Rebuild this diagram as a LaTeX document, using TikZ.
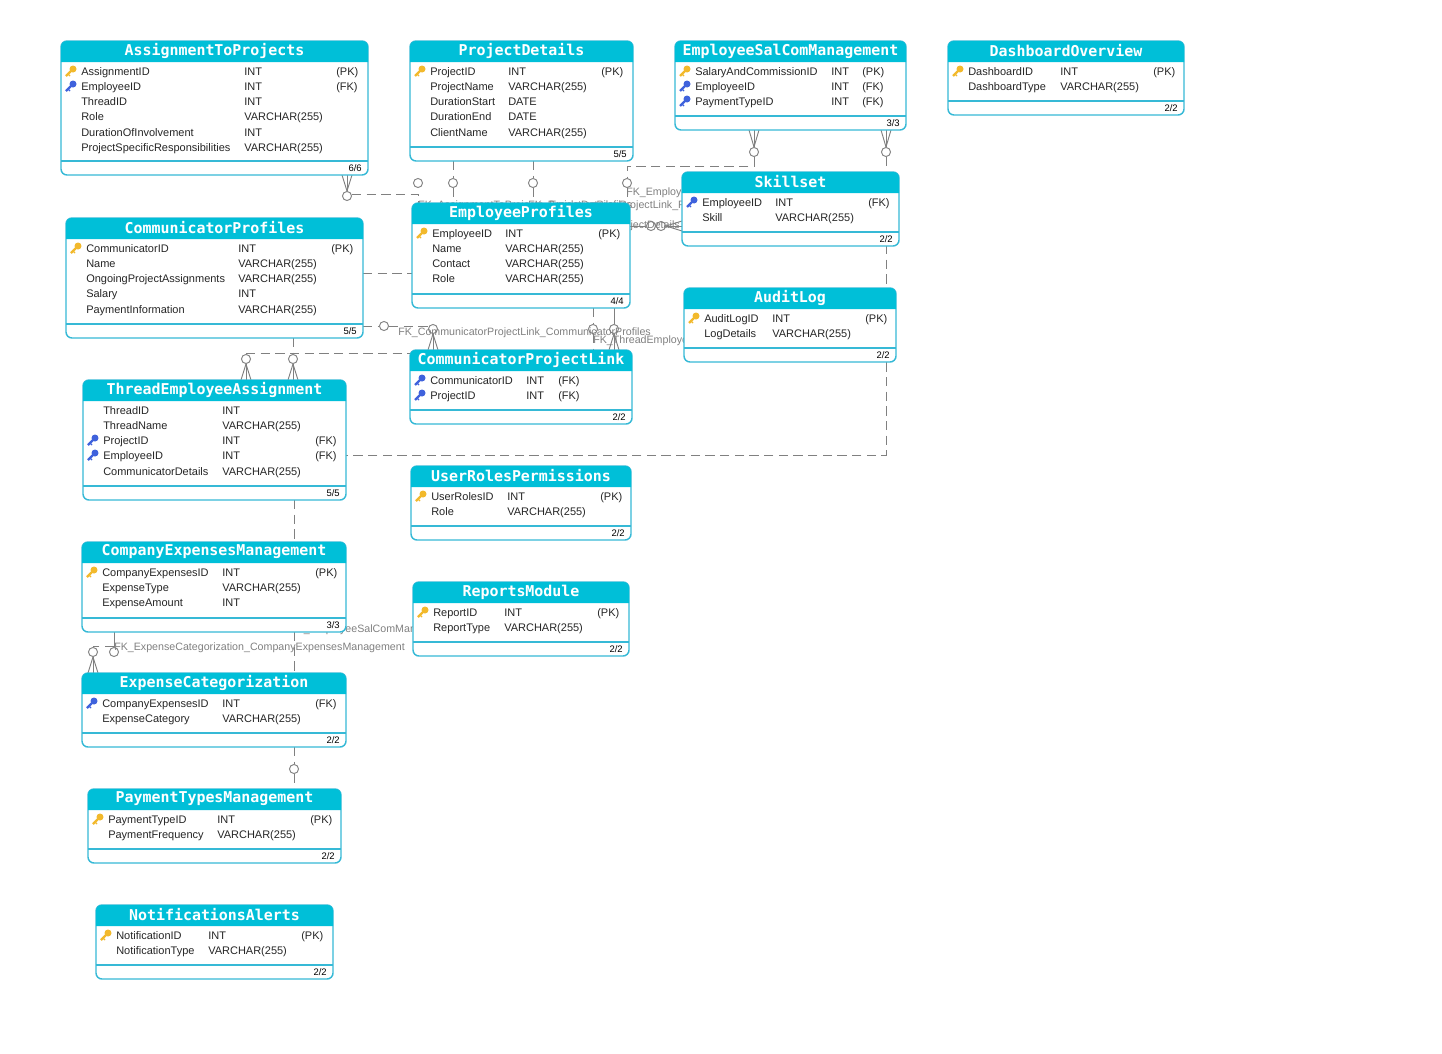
\documentclass[tikz,border=0pt]{standalone}
\usepackage{fontspec}
\setmainfont{Liberation Sans}
\newfontfamily\titlefont{DejaVu Sans Mono}
\usetikzlibrary{backgrounds,calc}
\definecolor{tablecyan}{HTML}{00BFD8}
\definecolor{tableedge}{HTML}{36B9D6}
\definecolor{fkgray}{HTML}{808080}
\definecolor{keygold}{HTML}{F2B92C}
\definecolor{keyblue}{HTML}{3F62DC}
\tikzset{
  x=0.75pt, y=-0.75pt,
  tablebody/.style={draw=tableedge, fill=white, line width=1.1pt, rounded corners=4.5pt, inner sep=0pt, outer sep=0pt},
  tabletitle/.style={text=white, font=\titlefont\bfseries\fontsize{11.2pt}{13pt}\selectfont, inner sep=0pt},
  rowtext/.style={anchor=base west, inner sep=0pt, font=\fontsize{8.25pt}{10pt}\selectfont, text=black!85},
  counttext/.style={anchor=base east, inner sep=0pt, font=\fontsize{7.1pt}{9pt}\selectfont},
  fkline/.style={draw=fkgray, line width=0.7pt, dash pattern=on 7pt off 4pt},
  crowline/.style={draw=fkgray, line width=0.7pt},
  crowcircle/.style={circle, draw=fkgray, line width=0.7pt, minimum size=6.8pt, inner sep=0pt},
  fklabel/.style={anchor=base west, inner sep=0pt, text=fkgray, font=\fontsize{8pt}{10pt}\selectfont},
  pics/keyicon/.style={code={
    \fill[fill=#1] (2,-2) circle (3.5);
    \draw[draw=#1, line width=1.7pt] (0,0) -- (-5,5);
    \draw[draw=#1, line width=1pt] (-3,3) -- (-1,5);
  }}
}
% id, x1, y1, x2, y2, count
\newcommand{\tablebox}[6]{
  \node[tablebody, minimum width={(#4-#2)*0.75pt}, minimum height={(#5-#3)*0.75pt}] (#1) at ({(#2+#4)/2},{(#3+#5)/2}) {};
  \fill[tablecyan] (#2,#3+21) [rounded corners=4.5pt] -- (#2,#3) -- (#4,#3) [sharp corners] -- (#4,#3+21) -- cycle;
  \draw[tableedge, line width=1.1pt] (#2,#5-14) -- (#4,#5-14);
  \node[tabletitle] (#1-title) at ({(#2+#4)/2},#3+10) {#1};
  \node[counttext] (#1-count) at (#4-6,#5-4) {#6};
}
% id, x of name, x of type, y/name/type
\newcommand{\tablerows}[4]{
  \foreach \ry/\rname/\rtype in {#4} {
    \node[rowtext] (#1-name\ry) at (#2,\ry+4) {\rname};
    \node[rowtext] (#1-type\ry) at (#3,\ry+4) {\rtype};
  }
}
% id, x of icon, x of mark, y/colour/mark
\newcommand{\keyrows}[4]{
  \foreach \ry/\kcolor/\kmark in {#4} {
    \pic at (#2,\ry) {keyicon=\kcolor};
    \node[rowtext] (#1-mark\ry) at (#3,\ry+4) {(\kmark)};
  }
}
\newcommand{\crowfeet}[2]{
  \foreach \off in {-5,0,5}
    \draw[crowline] (#1) -- ($(#1 |- #2)+(\off,0)$);
}
\begin{document}
\begin{tikzpicture}
\useasboundingbox (0,0) rectangle (1442,1053);

\tablebox{AssignmentToProjects}{61}{41}{368}{175}{6/6}
\tablerows{AssignmentToProjects}{81}{244}{71/AssignmentID/INT,86/EmployeeID/INT,101/ThreadID/INT,116/Role/VARCHAR(255),132/DurationOfInvolvement/INT,147/ProjectSpecificResponsibilities/VARCHAR(255)}
\keyrows{AssignmentToProjects}{71}{336}{71/keygold/PK,86/keyblue/FK}

\tablebox{ProjectDetails}{410}{41}{633}{161}{5/5}
\tablerows{ProjectDetails}{430}{508}{71/ProjectID/INT,86/ProjectName/VARCHAR(255),101/DurationStart/DATE,116/DurationEnd/DATE,132/ClientName/VARCHAR(255)}
\keyrows{ProjectDetails}{420}{601}{71/keygold/PK}

\tablebox{EmployeeSalComManagement}{675}{41}{906}{130}{3/3}
\tablerows{EmployeeSalComManagement}{695}{831}{71/SalaryAndCommissionID/INT,86/EmployeeID/INT,101/PaymentTypeID/INT}
\keyrows{EmployeeSalComManagement}{685}{862}{71/keygold/PK,86/keyblue/FK,101/keyblue/FK}

\tablebox{DashboardOverview}{948}{41}{1184}{115}{2/2}
\tablerows{DashboardOverview}{968}{1060}{71/DashboardID/INT,86/DashboardType/VARCHAR(255)}
\keyrows{DashboardOverview}{958}{1153}{71/keygold/PK}

\tablebox{Skillset}{682}{172}{899}{246}{2/2}
\tablerows{Skillset}{702}{775}{202/EmployeeID/INT,217/Skill/VARCHAR(255)}
\keyrows{Skillset}{692}{868}{202/keyblue/FK}

\tablebox{EmployeeProfiles}{412}{203}{630}{308}{4/4}
\tablerows{EmployeeProfiles}{432}{505}{233/EmployeeID/INT,248/Name/VARCHAR(255),263/Contact/VARCHAR(255),278/Role/VARCHAR(255)}
\keyrows{EmployeeProfiles}{422}{598}{233/keygold/PK}

\tablebox{CommunicatorProfiles}{66}{218}{363}{338}{5/5}
\tablerows{CommunicatorProfiles}{86}{238}{248/CommunicatorID/INT,263/Name/VARCHAR(255),278/OngoingProjectAssignments/VARCHAR(255),293/Salary/INT,309/PaymentInformation/VARCHAR(255)}
\keyrows{CommunicatorProfiles}{76}{331}{248/keygold/PK}

\tablebox{AuditLog}{684}{288}{896}{362}{2/2}
\tablerows{AuditLog}{704}{772}{318/AuditLogID/INT,333/LogDetails/VARCHAR(255)}
\keyrows{AuditLog}{694}{865}{318/keygold/PK}

\tablebox{CommunicatorProjectLink}{410}{350}{632}{424}{2/2}
\tablerows{CommunicatorProjectLink}{430}{526}{380/CommunicatorID/INT,395/ProjectID/INT}
\keyrows{CommunicatorProjectLink}{420}{558}{380/keyblue/FK,395/keyblue/FK}

\tablebox{ThreadEmployeeAssignment}{83}{380}{346}{500}{5/5}
\tablerows{ThreadEmployeeAssignment}{103}{222}{410/ThreadID/INT,425/ThreadName/VARCHAR(255),440/ProjectID/INT,455/EmployeeID/INT,471/CommunicatorDetails/VARCHAR(255)}
\keyrows{ThreadEmployeeAssignment}{93}{315}{440/keyblue/FK,455/keyblue/FK}

\tablebox{UserRolesPermissions}{411}{466}{631}{540}{2/2}
\tablerows{UserRolesPermissions}{431}{507}{496/UserRolesID/INT,511/Role/VARCHAR(255)}
\keyrows{UserRolesPermissions}{421}{600}{496/keygold/PK}

\tablebox{CompanyExpensesManagement}{82}{542}{346}{632}{3/3}
\tablerows{CompanyExpensesManagement}{102}{222}{572/CompanyExpensesID/INT,587/ExpenseType/VARCHAR(255),602/ExpenseAmount/INT}
\keyrows{CompanyExpensesManagement}{92}{315}{572/keygold/PK}

\tablebox{ReportsModule}{413}{582}{629}{656}{2/2}
\tablerows{ReportsModule}{433}{504}{612/ReportID/INT,627/ReportType/VARCHAR(255)}
\keyrows{ReportsModule}{423}{597}{612/keygold/PK}

\tablebox{ExpenseCategorization}{82}{673}{346}{747}{2/2}
\tablerows{ExpenseCategorization}{102}{222}{703/CompanyExpensesID/INT,718/ExpenseCategory/VARCHAR(255)}
\keyrows{ExpenseCategorization}{92}{315}{703/keyblue/FK}

\tablebox{PaymentTypesManagement}{88}{789}{341}{863}{2/2}
\tablerows{PaymentTypesManagement}{108}{217}{819/PaymentTypeID/INT,834/PaymentFrequency/VARCHAR(255)}
\keyrows{PaymentTypesManagement}{98}{310}{819/keygold/PK}

\tablebox{NotificationsAlerts}{96}{905}{333}{979}{2/2}
\tablerows{NotificationsAlerts}{116}{208}{935/NotificationID/INT,950/NotificationType/VARCHAR(255)}
\keyrows{NotificationsAlerts}{106}{301}{935/keygold/PK}

% connectors and their labels run behind the tables
\begin{scope}[on background layer]
\node[fklabel] (assignLabel) at (418,208) {FK\_AssignmentToProjects\_EmployeeProfiles};
\node[fklabel] (detailsLabel) at (528,208) {FK\_ProjectDetails\_ProjectLink\_ProjectDetails};
\node[fklabel] (salcomLabel) at (626,195) {FK\_EmployeeSalComManagement\_EmployeeProfiles};
\node[fklabel, anchor=base east] (skillLabel) at (680,228) {FK\_EmployeeProfiles\_ProjectDetails};
\node[fklabel] (commLabel) at (398,335) {FK\_CommunicatorProjectLink\_CommunicatorProfiles};
\node[fklabel] (threadLabel) at (593,343) {FK\_ThreadEmployeeAssignment\_EmployeeProfiles};
\node[fklabel] (payLabel) at (290,632) {FK\_EmployeeSalComManagement\_PaymentTypesManagement};
\node[fklabel] (expLabel) at (114,650) {FK\_ExpenseCategorization\_CompanyExpensesManagement};

\node[crowcircle] (assignC) at (347,196) {};
\node[crowcircle] (assignD) at (418,183) {};
\node[crowcircle] (detailA) at (453,183) {};
\node[crowcircle] (detailB) at (533,183) {};
\node[crowcircle] (detailC) at (627,183) {};
\node[crowcircle] (salA) at (754,152) {};
\node[crowcircle] (salB) at (886,152) {};
\node[crowcircle] (skillA) at (651,226) {};
\node[crowcircle] (skillB) at (661,226) {};
\node[crowcircle] (commA) at (384,326) {};
\node[crowcircle] (commB) at (433,329) {};
\node[crowcircle] (linkA) at (593,329) {};
\node[crowcircle] (linkB) at (614,329) {};
\node[crowcircle] (threadA) at (246,359) {};
\node[crowcircle] (threadB) at (293,359) {};
\node[crowcircle] (expA) at (93,652) {};
\node[crowcircle] (expB) at (114,652) {};
\node[crowcircle] (payA) at (294,769) {};

\coordinate (assignTurn) at (418,194);
\coordinate (salTurn) at (754,166);
\coordinate (detailTurn) at (627,166);
\coordinate (threadTurn) at (293,353);
\coordinate (threadLeft) at (246,353);
\coordinate (expTurn) at (114,646);
\coordinate (expLeft) at (93,646);
\coordinate (auditTurn) at (886,455);
\coordinate (commTurn) at (433,326);
\coordinate (profileLine) at (390,273);

\crowfeet{assignC.north}{AssignmentToProjects.south}
\draw[fkline] (assignC.east |- assignTurn) -- (assignTurn) -- (assignTurn |- EmployeeProfiles.north);

\draw[fkline] (detailA |- ProjectDetails.south) -- (detailA);
\draw[fkline] (detailA) -- (detailA |- EmployeeProfiles.north);
\draw[fkline] (detailB |- ProjectDetails.south) -- (detailB);
\draw[fkline] (detailB) -- (detailB |- EmployeeProfiles.north);
\draw[fkline] (salA) -- (salTurn) -- (detailTurn) -- (detailC);
\draw[fkline] (detailC) -- (detailC |- EmployeeProfiles.north);

\crowfeet{salA.north}{EmployeeSalComManagement.south}
\crowfeet{salB.north}{EmployeeSalComManagement.south}
\draw[fkline] (salB) -- (auditTurn) -- (auditTurn -| ThreadEmployeeAssignment.east);

\draw[crowline] (EmployeeProfiles.east |- skillA) -- (skillA);
\draw[crowline] (skillA) -- (skillB);
\draw[crowline] (skillB) -- (Skillset.west |- skillB);
\draw[crowline] (skillB.east) -- ($(Skillset.west |- skillB)+(0,5)$);
\draw[crowline] (skillB.east) -- ($(Skillset.west |- skillB)+(0,-5)$);

\draw[fkline] (CommunicatorProfiles.east |- profileLine) -- (EmployeeProfiles.west |- profileLine);
\draw[fkline] (CommunicatorProfiles.east |- commA) -- (commA);
\draw[fkline] (commA) -- (commTurn);
\crowfeet{commB.south}{CommunicatorProjectLink.north}

\draw[fkline] (linkA |- EmployeeProfiles.south) -- (linkA);
\draw[fkline] (linkA) -- (linkA |- CommunicatorProjectLink.north);
\draw[crowline] (linkB |- EmployeeProfiles.south) -- (linkB);
\crowfeet{linkB.south}{CommunicatorProjectLink.north}

\draw[fkline] (threadTurn |- CommunicatorProfiles.south) -- (threadTurn);
\draw[fkline] (threadLeft) -- (threadLeft -| CommunicatorProjectLink.west);
\draw[crowline] (threadA) -- (threadLeft);
\draw[crowline] (threadB) -- (threadTurn);
\crowfeet{threadA.south}{ThreadEmployeeAssignment.north}
\crowfeet{threadB.south}{ThreadEmployeeAssignment.north}

\draw[fkline] (payA |- ThreadEmployeeAssignment.south) -- (payA |- CompanyExpensesManagement.north);
\draw[fkline] (payA |- CompanyExpensesManagement.south) -- (payA |- ExpenseCategorization.north);
\draw[fkline] (payA |- ExpenseCategorization.south) -- (payA);
\draw[fkline] (payA) -- (payA |- PaymentTypesManagement.north);

\draw[crowline] (expTurn |- CompanyExpensesManagement.south) -- (expB);
\draw[fkline] (expTurn) -- (expLeft) -- (expA);
\crowfeet{expA.south}{ExpenseCategorization.north}
\end{scope}
\end{tikzpicture}
\end{document}
